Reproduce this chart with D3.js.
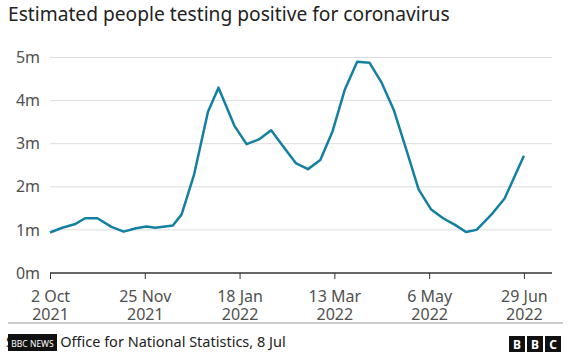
<!DOCTYPE html>
<html>
<head>
<meta charset="utf-8">
<script src="https://cdn.jsdelivr.net/npm/d3@7"></script>
<style>
  html, body { margin: 0; padding: 0; background: #fff; }
  svg { display: block; }
  text { font-family: "Noto Sans", "Open Sans", sans-serif; }
</style>
</head>
<body>
<svg id="chart" width="571" height="359"></svg>
<script>
// ---- data ----
const dates = [
  "2021-10-02","2021-10-09","2021-10-16","2021-10-22","2021-10-29","2021-11-06",
  "2021-11-13","2021-11-20","2021-11-26","2021-12-01","2021-12-11","2021-12-16",
  "2021-12-23","2021-12-31","2022-01-06","2022-01-15","2022-01-22","2022-01-29",
  "2022-02-05","2022-02-12","2022-02-19","2022-02-26","2022-03-05","2022-03-12",
  "2022-03-19","2022-03-26","2022-04-02","2022-04-09","2022-04-16","2022-04-23",
  "2022-04-30","2022-05-07","2022-05-14","2022-05-21","2022-05-27","2022-06-02",
  "2022-06-11","2022-06-18","2022-06-24","2022-06-29"
];
const positives = [
  0.94, 1.05, 1.13, 1.27, 1.27, 1.07,
  0.96, 1.04, 1.08, 1.05, 1.10, 1.36,
  2.27, 3.74, 4.30, 3.42, 2.99, 3.10,
  3.31, 2.93, 2.55, 2.41, 2.62, 3.29,
  4.26, 4.90, 4.88, 4.41, 3.77, 2.86,
  1.94, 1.48, 1.27, 1.11, 0.95, 1.00,
  1.38, 1.73, 2.27, 2.72
];
const yTicks = [0, 1, 2, 3, 4, 5];
const yTickLabels = ["0m", "1m", "2m", "3m", "4m", "5m"];
const xTickDates = ["2021-10-02","2021-11-25","2022-01-18","2022-03-13","2022-05-06","2022-06-29"];
const xTickLabelsTop = ["2 Oct", "25 Nov", "18 Jan", "13 Mar", "6 May", "29 Jun"];
const xTickLabelsBottom = ["2021", "2021", "2022", "2022", "2022", "2022"];
const xDomain = ["2021-10-02", "2022-07-15"];

const titleText = "Estimated people testing positive for coronavirus";
const sourceText = "Source: Office for National Statistics, 8 Jul";

// ---- drawing ----
const parse = d3.utcParse("%Y-%m-%d");
const svg = d3.select("#chart");

const x = d3.scaleUtc().domain(xDomain.map(parse)).range([50, 552]);
const y = d3.scaleLinear().domain([0, 5]).range([273, 57.5]);

svg.append("text")
  .attr("x", 8).attr("y", 21)
  .attr("font-size", 19.2)
  .attr("fill", "#222")
  .text(titleText);

// gridlines
svg.append("g")
  .selectAll("line")
  .data(yTicks.filter(d => d > 0))
  .join("line")
  .attr("x1", 50).attr("x2", 552)
  .attr("y1", d => y(d)).attr("y2", d => y(d))
  .attr("stroke", "#dddddd").attr("stroke-width", 1);

// y labels
const yAxis = d3.axisLeft(y).tickValues(yTicks)
  .tickFormat((d, i) => yTickLabels[i]).tickSize(0).tickPadding(0);
const gy = svg.append("g").attr("transform", "translate(40,0)").call(yAxis);
gy.select(".domain").remove();
gy.selectAll("text").attr("font-size", 16).attr("fill", "#505050")
  .attr("font-family", "\"Noto Sans\", sans-serif");

// x axis
const xAxis = d3.axisBottom(x).tickValues(xTickDates.map(parse))
  .tickSize(6).tickFormat("");
const gx = svg.append("g").attr("transform", "translate(0,273)").call(xAxis);
gx.select(".domain").attr("d", "M50,0H552").attr("stroke", "#333").attr("stroke-width", 1.5);
gx.selectAll(".tick line").attr("stroke", "#333").attr("stroke-width", 1);
gx.selectAll(".tick").each(function(d, i) {
  const g = d3.select(this);
  g.append("text")
    .attr("fill", "#505050").attr("font-size", 16)
    .attr("text-anchor", "middle").attr("x", 0).attr("y", 29)
    .attr("font-family", "\"Noto Sans\", sans-serif")
    .text(xTickLabelsTop[i]);
  g.append("text")
    .attr("fill", "#505050").attr("font-size", 16)
    .attr("text-anchor", "middle").attr("x", 0).attr("y", 47)
    .attr("font-family", "\"Noto Sans\", sans-serif")
    .text(xTickLabelsBottom[i]);
});

// line
const line = d3.line()
  .x((d, i) => x(parse(dates[i])))
  .y(d => y(d));
svg.append("path")
  .datum(positives)
  .attr("d", line)
  .attr("fill", "none")
  .attr("stroke", "#1380A1")
  .attr("stroke-width", 2.5)
  .attr("stroke-linejoin", "round");

// footer
svg.append("line").attr("x1", 8).attr("x2", 563).attr("y1", 323).attr("y2", 323)
  .attr("stroke", "#999").attr("stroke-width", 1);
svg.append("text").attr("x", 6).attr("y", 346.5)
  .attr("font-size", 14.5).attr("fill", "#222").text(sourceText);
svg.append("rect").attr("x", 8).attr("y", 334).attr("width", 49).attr("height", 17).attr("fill", "#111");
svg.append("text").attr("x", 32.5).attr("y", 346.5).attr("text-anchor", "middle")
  .attr("font-size", 8.5).attr("fill", "#fff").attr("font-family", "\"Liberation Sans Narrow\", \"DejaVu Sans Condensed\", sans-serif")
  .text("BBC NEWS");

const logo = ["B", "B", "C"];
const lg = svg.append("g");
logo.forEach((c, i) => {
  lg.append("rect").attr("x", 509 + i * 18).attr("y", 336).attr("width", 16).attr("height", 16).attr("fill", "#111");
  lg.append("text").attr("x", 517 + i * 18).attr("y", 349).attr("text-anchor", "middle")
    .attr("font-size", 12).attr("font-weight", "bold").attr("fill", "#fff")
    .attr("font-family", "\"Liberation Sans\", sans-serif").text(c);
});
</script>
</body>
</html>
